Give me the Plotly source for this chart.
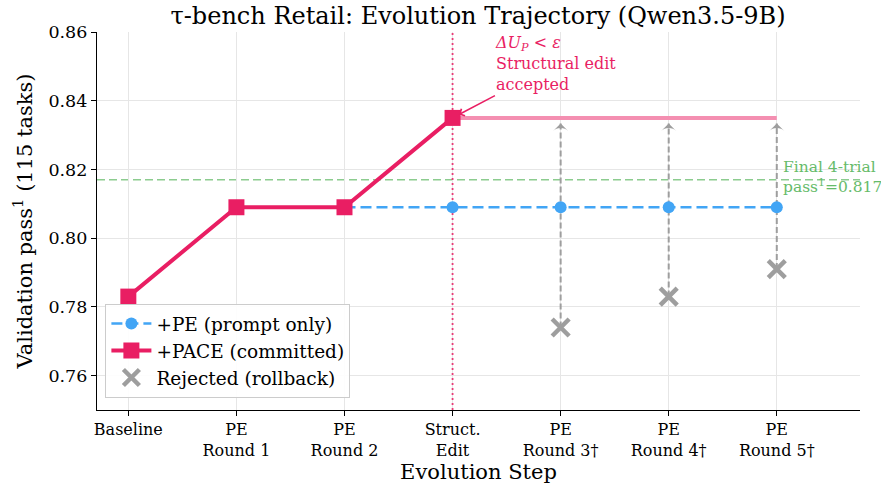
import plotly.graph_objects as go

steps = ["Baseline", "PE<br>Round 1", "PE<br>Round 2", "Struct.<br>Edit",
         "PE<br>Round 3†", "PE<br>Round 4†", "PE<br>Round 5†"]
step_idx = [0, 1, 2, 3, 4, 5, 6]

pace_x = [0, 1, 2, 3]
pace_y = [0.783, 0.809, 0.809, 0.835]
pace_ext_x = [3, 4, 5, 6]
pace_ext_y = [0.835, 0.835, 0.835, 0.835]
pe_x = [2, 3, 4, 5, 6]
pe_y = [0.809, 0.809, 0.809, 0.809, 0.809]
rej_x = [4, 5, 6]
rej_y = [0.774, 0.783, 0.791]
final_pass = 0.817
struct_step = 3
y_range = [0.75, 0.86]
y_ticks = [0.76, 0.78, 0.80, 0.82, 0.84, 0.86]

PINK = "#E91E63"
PINK_L = "#F48FB1"
BLUE = "#42A5F5"
GREY = "#9E9E9E"
GREEN = "#66BB6A"
FONT = "DejaVu Serif, serif"

head_y = pace_ext_y[0] - 0.0016

fig = go.Figure()

# vertical dotted marker for the structural edit step
fig.add_trace(go.Scatter(x=[struct_step, struct_step], y=y_range, mode="lines",
                         line=dict(color=PINK, width=1.8, dash="2px,3px"),
                         opacity=0.85, showlegend=False, hoverinfo="skip", cliponaxis=True))

# rejected arrows: dashed shafts + arrowheads
for x, y in zip(rej_x, rej_y):
    fig.add_trace(go.Scatter(x=[x, x], y=[y, head_y], mode="lines",
                             line=dict(color=GREY, width=2, dash="6px,3px"),
                             showlegend=False, hoverinfo="skip"))
fig.add_trace(go.Scatter(x=rej_x, y=[head_y] * len(rej_x), mode="markers",
                         marker=dict(symbol="arrow-wide", size=11, color=GREY, angle=0),
                         showlegend=False, hoverinfo="skip"))

fig.add_trace(go.Scatter(x=pace_ext_x, y=pace_ext_y, mode="lines",
                         line=dict(color=PINK_L, width=4), showlegend=False))

fig.add_trace(go.Scatter(x=pe_x, y=pe_y, mode="lines+markers", name="+PE (prompt only)",
                         line=dict(color=BLUE, width=2.5, dash="11px,5px"),
                         marker=dict(symbol="circle", size=12, color=BLUE)))

fig.add_trace(go.Scatter(x=pace_x, y=pace_y, mode="lines+markers", name="+PACE (committed)",
                         line=dict(color=PINK, width=4),
                         marker=dict(symbol="square", size=16, color=PINK)))

fig.add_trace(go.Scatter(x=rej_x, y=rej_y, mode="markers", name="Rejected (rollback)",
                         marker=dict(symbol="x-thin", size=17, color=GREY,
                                     line=dict(color=GREY, width=4.5))))

annotations = [
    dict(x=3, y=0.835, xref="x", yref="y",
         ax=3.955, ay=0.8508, axref="x", ayref="y",
         text="<i>ΔU<sub>P</sub></i> < <i>ε</i><br>Structural edit<br>accepted",
         align="left", showarrow=True, arrowhead=4, arrowsize=1, arrowwidth=1.5,
         arrowcolor=PINK, standoff=7,
         font=dict(family=FONT, size=16, color=PINK)),
    dict(x=6.04, y=0.8178, xref="x", yref="y",
         text="Final 4-trial<br>pass<sup>1</sup>=0.817",
         showarrow=False, xanchor="left", yanchor="middle", align="left",
         font=dict(family=FONT, size=15.5, color=GREEN)),
]

shapes = [
    dict(type="line", xref="paper", yref="y", x0=0, x1=1, y0=final_pass, y1=final_pass,
         line=dict(color=GREEN, width=1.5, dash="8px,4px"), opacity=0.75, layer="between"),
]

fig.update_layout(
    width=881, height=486,
    margin=dict(l=97, r=21, t=32, b=76),
    paper_bgcolor="white", plot_bgcolor="white",
    font=dict(family=FONT, color="black"),
    title=dict(text="τ-bench Retail: Evolution Trajectory (Qwen3.5-9B)",
               x=0.5426, xanchor="center", y=0.968, yanchor="middle",
               font=dict(family=FONT, size=24)),
    xaxis=dict(range=[-0.29, 6.77], tickmode="array", tickvals=step_idx, ticktext=steps,
               showgrid=True, gridcolor="#E6E6E6", gridwidth=1,
               showline=True, linecolor="black", linewidth=1.2,
               ticks="outside", ticklen=5, tickcolor="black", automargin=False,
               tickfont=dict(family=FONT, size=16), zeroline=False,
               title=dict(text="Evolution Step", font=dict(family=FONT, size=21), standoff=4)),
    yaxis=dict(range=y_range, tickmode="array", tickvals=y_ticks,
               ticktext=[f"{v:.2f}" for v in y_ticks],
               showgrid=True, gridcolor="#E6E6E6", gridwidth=1,
               showline=True, linecolor="black", linewidth=1.2,
               ticks="outside", ticklen=5, tickcolor="black", automargin=False,
               tickfont=dict(family=FONT, size=17.5), zeroline=False,
               title=dict(text="Validation pass<sup>1</sup> (115 tasks)",
                          font=dict(family=FONT, size=21), standoff=10)),
    legend=dict(x=0.011, y=0.032, xanchor="left", yanchor="bottom",
                bgcolor="rgba(255,255,255,0.9)", bordercolor="#CCCCCC", borderwidth=1,
                font=dict(family=FONT, size=18.5), tracegroupgap=0, itemwidth=40),
    annotations=annotations,
    shapes=shapes,
)

fig.write_html("out.html", config={"displayModeBar": False},
               post_script="document.body.style.margin='0';")
